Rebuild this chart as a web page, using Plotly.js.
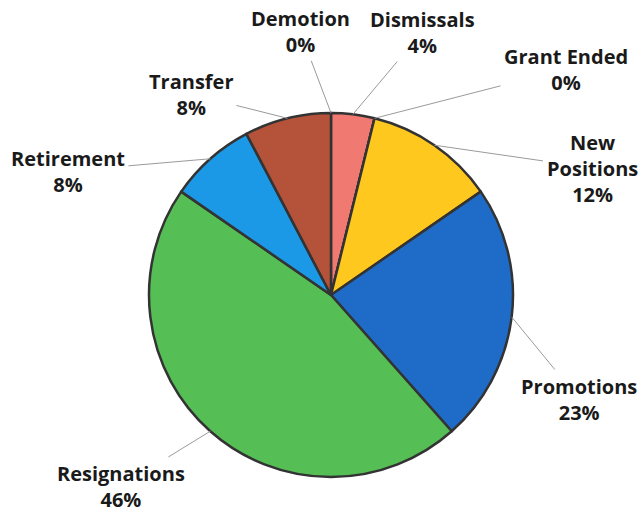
<!DOCTYPE html>
<html>
<head>
<meta charset="utf-8">
<script src="https://cdn.plot.ly/plotly-3.0.1.min.js"></script>
<style>html,body{margin:0;padding:0;background:#fff;}#chart{width:639px;height:514px;}</style>
</head>
<body>
<div id="chart"></div>
<script>
// Data (counts; percentages derive from them)
const categories = ["Demotion", "Dismissals", "Grant Ended", "New Positions", "Promotions", "Resignations", "Retirement", "Transfer"];
const counts     = [0, 1, 0, 3, 6, 12, 2, 2];
const displayNames = ["Demotion", "Dismissals", "Grant Ended", "New<br>Positions", "Promotions", "Resignations", "Retirement", "Transfer"];
const sliceColors = ["#555555", "#F07A72", "#555555", "#FFC81E", "#1F6CC8", "#55BF55", "#1B98E6", "#B4523A"];

// Layout geometry
const W = 639, H = 514;
const CX = 331, CY = 295, R = 182;
// text centre positions (px) for each label
const labelX = [300, 422, 566, 592, 579, 121, 68, 191];
const labelY = [31, 32, 69, 168, 399, 486, 171, 94];

const total = counts.reduce((a, b) => a + b, 0);
const annotations = [];
let cum = 0;
counts.forEach((v, i) => {
  const mid = (cum + v / 2) / total * 2 * Math.PI;
  cum += v;
  const tipX = CX + R * Math.sin(mid);
  const tipY = CY - R * Math.cos(mid);
  annotations.push({
    x: tipX / W, y: 1 - tipY / H, xref: 'paper', yref: 'paper',
    ax: labelX[i] - tipX, ay: labelY[i] - tipY,
    text: displayNames[i] + '<br>' + Math.round(v / total * 100) + '%',
    showarrow: true, arrowhead: 0, arrowwidth: 1, arrowcolor: '#9a9a9a',
    standoff: 0, startstandoff: 2,
    font: {family: 'Open Sans, sans-serif', size: 20, color: '#1a1a1a', weight: 700},
    align: 'center'
  });
});

const trace = {
  type: 'pie',
  labels: categories,
  values: counts,
  sort: false,
  direction: 'clockwise',
  rotation: 0,
  textinfo: 'none',
  hoverinfo: 'label+percent',
  showlegend: false,
  marker: {colors: sliceColors, line: {color: '#333333', width: 2.5}},
  domain: {x: [(CX - R) / W, (CX + R) / W], y: [1 - (CY + R) / H, 1 - (CY - R) / H]}
};

const layout = {
  width: W, height: H,
  margin: {l: 0, r: 0, t: 0, b: 0},
  paper_bgcolor: '#ffffff',
  showlegend: false,
  annotations: annotations
};

Plotly.newPlot('chart', [trace], layout, {displayModeBar: false, staticPlot: true});
</script>
</body>
</html>
